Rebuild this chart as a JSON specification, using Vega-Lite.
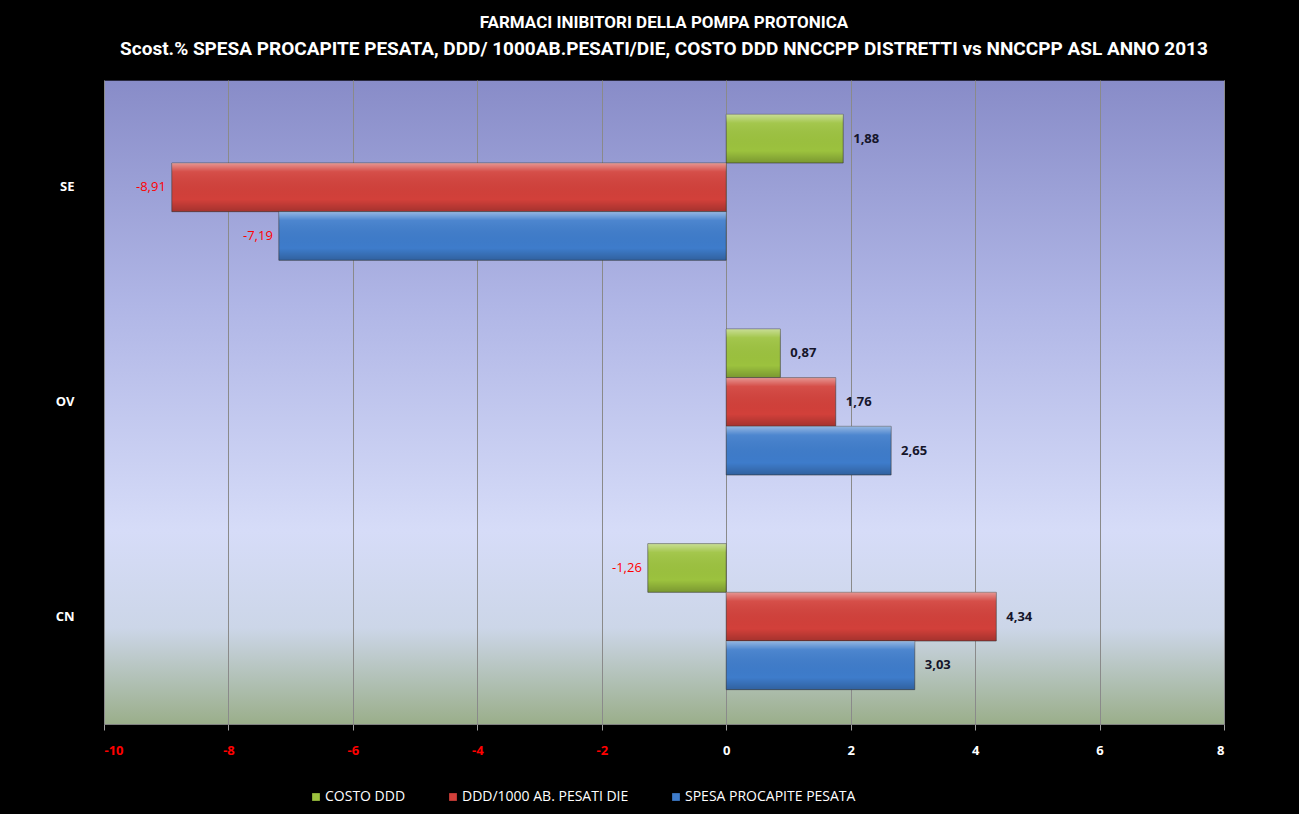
{
  "$schema": "https://vega.github.io/schema/vega-lite/v6.json",
  "width": 1120,
  "height": 644,
  "autosize": "none",
  "padding": {"left": 104, "top": 80, "right": 75, "bottom": 90},
  "background": "#000000",
  "config": {
    "locale": {"number": {"decimal": ",", "thousands": ".", "grouping": [3], "currency": ["", "€"], "minus": "-"}},
    "view": {
      "stroke": "#2a2a40",
      "fill": {
        "gradient": "linear", "x1": 0, "y1": 0, "x2": 0, "y2": 1,
        "stops": [
          {"offset": 0, "color": "#888cc8"},
          {"offset": 0.35, "color": "#b0b6e6"},
          {"offset": 0.7, "color": "#d6dcf8"},
          {"offset": 0.85, "color": "#ccd6e8"},
          {"offset": 1, "color": "#9aae8a"}
        ]
      }
    },
    "font": "Open Sans"
  },
  "title": {
    "text": "FARMACI INIBITORI DELLA POMPA PROTONICA",
    "subtitle": "Scost.% SPESA PROCAPITE PESATA, DDD/ 1000AB.PESATI/DIE, COSTO DDD NNCCPP DISTRETTI vs NNCCPP ASL ANNO 2013",
    "anchor": "middle",
    "color": "#ffffff",
    "subtitleColor": "#ffffff",
    "font": "Roboto",
    "subtitleFont": "Roboto",
    "fontSize": 17,
    "subtitleFontSize": 19,
    "fontWeight": "bold",
    "subtitleFontWeight": "bold",
    "subtitlePadding": 8,
    "offset": 20
  },
  "data": {
    "values": [
      {"district": "SE", "series": "COSTO DDD", "value": 1.88},
      {"district": "SE", "series": "DDD/1000 AB. PESATI DIE", "value": -8.91},
      {"district": "SE", "series": "SPESA PROCAPITE PESATA", "value": -7.19},
      {"district": "OV", "series": "COSTO DDD", "value": 0.87},
      {"district": "OV", "series": "DDD/1000 AB. PESATI DIE", "value": 1.76},
      {"district": "OV", "series": "SPESA PROCAPITE PESATA", "value": 2.65},
      {"district": "CN", "series": "COSTO DDD", "value": -1.26},
      {"district": "CN", "series": "DDD/1000 AB. PESATI DIE", "value": 4.34},
      {"district": "CN", "series": "SPESA PROCAPITE PESATA", "value": 3.03}
    ]
  },
  "encoding": {
    "y": {
      "field": "district", "type": "nominal", "sort": ["SE", "OV", "CN"],
      "scale": {"paddingInner": 0.32, "paddingOuter": 0.16},
      "axis": {"title": null, "labelColor": "#ffffff", "labelFontSize": 13, "labelFontWeight": "bold", "labelPadding": 30, "ticks": false, "domain": false, "grid": false}
    },
    "yOffset": {
      "field": "series", "type": "nominal",
      "sort": ["COSTO DDD", "DDD/1000 AB. PESATI DIE", "SPESA PROCAPITE PESATA"]
    },
    "x": {
      "field": "value", "type": "quantitative",
      "scale": {"domain": [-10, 8], "nice": false},
      "axis": {
        "title": null, "values": [-10, -8, -6, -4, -2, 0, 2, 4, 6, 8], "format": "d",
        "labelColor": {"condition": {"test": "datum.value < 0", "value": "#ff0000"}, "value": "#ffffff"},
        "labelFontSize": 13, "labelFontWeight": "bold", "labelPadding": 14,
        "grid": true, "gridColor": "#8a8a8a", "gridWidth": 1,
        "domain": true, "domainColor": "#808080", "tickColor": "#a0a0a0", "tickSize": 6
      }
    }
  },
  "layer": [
    {
      "mark": {"type": "bar", "stroke": "#3a3a3a", "strokeWidth": 1, "strokeOpacity": 0.6},
      "encoding": {
        "color": {
          "field": "series", "type": "nominal",
          "sort": ["COSTO DDD", "DDD/1000 AB. PESATI DIE", "SPESA PROCAPITE PESATA"],
          "scale": {"domain": ["COSTO DDD", "DDD/1000 AB. PESATI DIE", "SPESA PROCAPITE PESATA"], "range": ["#9cc23e", "#d2403a", "#3e7ccb"]},
          "legend": {
            "title": null, "orient": "none", "direction": "horizontal",
            "legendX": 205, "legendY": 710,
            "labelColor": "#ffffff", "labelFontSize": 14, "symbolType": "square", "symbolSize": 60,
            "columnPadding": 40, "labelOffset": 2, "labelLimit": 300, "symbolStrokeWidth": 0
          }
        }
      }
    },
    {
      "mark": {
        "type": "bar",
        "fill": {
          "gradient": "linear", "x1": 0, "y1": 0, "x2": 0, "y2": 1,
          "stops": [
            {"offset": 0, "color": "rgba(255,255,255,0.45)"},
            {"offset": 0.18, "color": "rgba(255,255,255,0.08)"},
            {"offset": 0.75, "color": "rgba(0,0,0,0)"},
            {"offset": 1, "color": "rgba(0,0,0,0.22)"}
          ]
        }
      },
      "encoding": {}
    },
    {
      "transform": [{"filter": "datum.value >= 0"}],
      "mark": {"type": "text", "align": "left", "dx": 10, "fontSize": 13, "fontWeight": "bold", "color": "#15152a"},
      "encoding": {"text": {"field": "value", "type": "quantitative", "format": ".2f"}}
    },
    {
      "transform": [{"filter": "datum.value < 0"}],
      "mark": {"type": "text", "align": "right", "dx": -6, "fontSize": 13, "color": "#ff0000"},
      "encoding": {"text": {"field": "value", "type": "quantitative", "format": ".2f"}}
    }
  ]
}
